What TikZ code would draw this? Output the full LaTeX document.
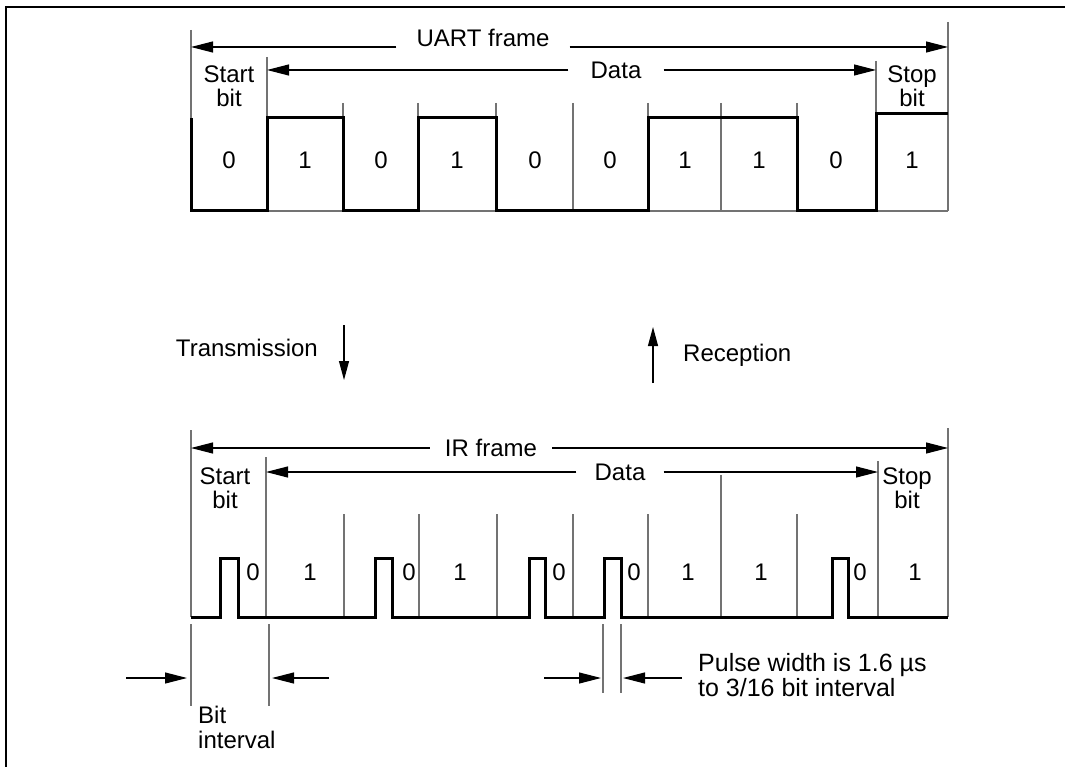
\documentclass[tikz,border=0pt]{standalone}
\usepackage{fontspec}
\setmainfont{Liberation Sans}
\usetikzlibrary{arrows.meta}

\tikzset{
  signal/.style={line width=3pt, line join=miter},
  tick/.style={black!55, line width=1.2pt},
  dimarrow/.style={line width=1.1pt, -{Triangle[length=22pt,width=11pt]}},
  flowarrow/.style={line width=1.1pt, -{Triangle[length=19pt,width=10pt]}},
}

\begin{document}
\begin{tikzpicture}[x=1pt, y=-1pt, font=\fontsize{24pt}{24.5pt}\selectfont, inner sep=0pt]
  \useasboundingbox (0,0) rectangle (1065,767);
  % outer frame
  \draw[line width=2pt] (6,767) -- (6,7) -- (1065,7);

  % UART frame: grid lines
  \coordinate (uL) at (191,30);
  \coordinate (uD) at (267,57);
  \coordinate (uS) at (876,61);
  \coordinate (uR) at (948,22);
  \draw[tick] (uL) -- (191,211) -- (948,211);
  \draw[tick] (uD) -- (267,211);
  \draw[tick] (uS) -- (876,211);
  \draw[tick] (uR) -- (948,211);
  \foreach \x in {343,418,496,573,648,721,797}
    \draw[tick] (\x,103) -- (\x,211);
  % UART level
  \draw[signal] (191,118) |- (267,211) |- (343,118) |- (418,211) |- (496,118)
    |- (648,211) |- (797,118) |- (876,211) |- (948,114);
  % UART labels
  \node[anchor=base, inner xsep=20pt] (uartlbl) at (483,47) {UART frame};
  \draw[dimarrow] (uartlbl.base west) -- (uartlbl.base west -| uL);
  \draw[dimarrow] (uartlbl.base east) -- (uartlbl.base east -| uR);
  \node[inner xsep=22pt] (udatalbl) at (616,70) {Data};
  \draw[dimarrow] (udatalbl.west) -- (udatalbl.west -| uD);
  \draw[dimarrow] (udatalbl.east) -- (udatalbl.east -| uS);
  \node[align=center] (ustart) at (229,86) {Start\\bit};
  \node[align=center] (ustop) at (912,86) {Stop\\bit};
  \foreach \x/\d [count=\i] in {229/0,305/1,381/0,457/1,535/0,610/0,685/1,759/1,836/0,912/1}
    \node (ubit\i) at (\x,160) {\d};

  % direction arrows
  \coordinate (txtop) at (344,325);
  \coordinate (txbot) at (344,380);
  \draw[flowarrow] (txtop) -- (txbot);
  \node[anchor=east] (txlbl) at (318,348) {Transmission};
  \coordinate (rxbot) at (653,383);
  \coordinate (rxtop) at (653,327);
  \draw[flowarrow] (rxbot) -- (rxtop);
  \node[anchor=west] (rxlbl) at (683,355) {Reception};

  % IR frame: grid lines
  \coordinate (iL) at (191,430);
  \coordinate (iD) at (266,457);
  \coordinate (iS) at (878,461);
  \coordinate (iR) at (948,428);
  \draw[tick] (iL) -- (191,617);
  \draw[tick] (iD) -- (266,617);
  \draw[tick] (iS) -- (878,617);
  \draw[tick] (iR) -- (948,617);
  \foreach \x in {344,419,497,573,648,797}
    \draw[tick] (\x,514) -- (\x,617);
  \draw[tick] (721,475) -- (721,617);
  % IR pulses
  \draw[signal] (191,617) -- (220,617) |- (238,558) |- (375,617) |- (392,558)
    |- (529,617) |- (545,558) |- (604,617) |- (621,558) |- (832,617)
    |- (848,558) |- (948,617);
  % IR labels
  \node[inner xsep=15pt] (irlbl) at (491,448) {IR frame};
  \draw[dimarrow] (irlbl.west) -- (irlbl.west -| iL);
  \draw[dimarrow] (irlbl.east) -- (irlbl.east -| iR);
  \node[inner xsep=18pt] (idatalbl) at (620,472) {Data};
  \draw[dimarrow] (idatalbl.west) -- (idatalbl.west -| iD);
  \draw[dimarrow] (idatalbl.east) -- (idatalbl.east -| iS);
  \node[align=center] (istart) at (225,488) {Start\\bit};
  \node[align=center] (istop) at (907,488) {Stop\\bit};
  \foreach \x/\d [count=\i] in {253/0,310/1,409/0,460/1,559/0,634/0,688/1,761/1,860/0,915/1}
    \node (ibit\i) at (\x,572) {\d};

  % bit interval
  \coordinate (biA) at (191,624);
  \coordinate (biB) at (269,624);
  \draw[tick] (biA) -- (191,706);
  \draw[tick] (biB) -- (269,706);
  \coordinate (biin) at (126,678);
  \coordinate (biout) at (329,678);
  \draw[dimarrow, shorten >=4pt] (biin) -- (biin -| biA);
  \draw[dimarrow, shorten >=3pt] (biout) -- (biout -| biB);
  \node[anchor=north west, align=left] (bilbl) at (198,706) {Bit\\interval};

  % pulse width
  \coordinate (pwA) at (603,624);
  \coordinate (pwB) at (621,624);
  \draw[tick] (pwA) -- (603,693);
  \draw[tick] (pwB) -- (621,693);
  \coordinate (pwin) at (544,678);
  \coordinate (pwout) at (682,678);
  \draw[dimarrow, shorten >=2pt] (pwin) -- (pwin -| pwA);
  \draw[dimarrow, shorten >=2pt] (pwout) -- (pwout -| pwB);
  \node[anchor=west, align=left, font=\fontsize{25pt}{25pt}\selectfont] (pwlbl) at (698,675) {Pulse width is 1.6 µs\\to 3/16 bit interval};
\end{tikzpicture}
\end{document}
